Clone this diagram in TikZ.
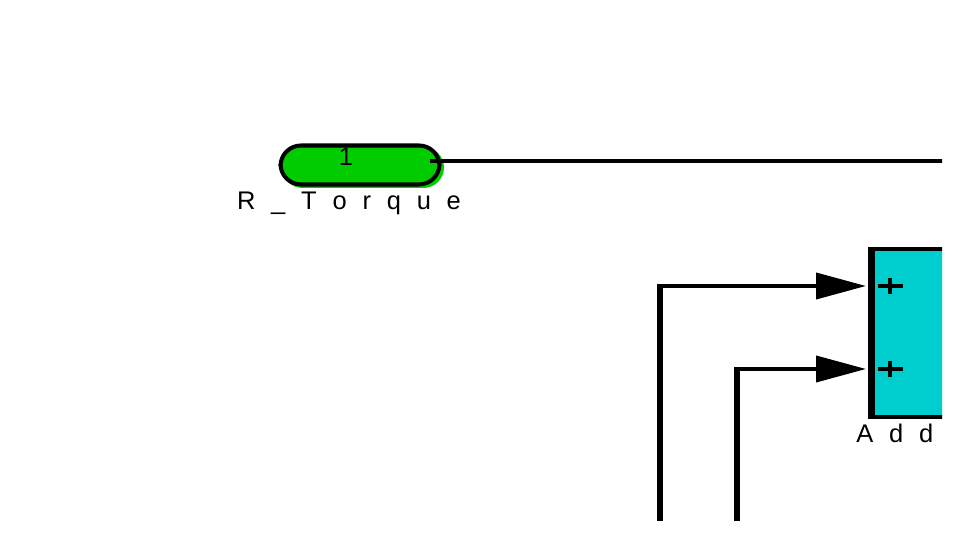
\documentclass[tikz,border=0pt]{standalone}
\usepackage{fontspec}
\setmainfont{Liberation Sans}
\usetikzlibrary{arrows.meta}
\definecolor{inportgreen}{RGB}{0,204,0}
\definecolor{sumcyan}{RGB}{0,206,206}
\newcommand{\lblfont}{\fontsize{14.5}{17}\selectfont\spaceskip 0.62em\relax}
\tikzset{
  pill/.style={draw=black, line width=2.3pt, fill=inportgreen, rounded corners=0.41cm,
    minimum width=3.18cm, minimum height=0.78cm, inner sep=0pt},
  blocklbl/.style={font=\lblfont, inner sep=0pt},
  sig/.style={line width=2.2pt},
  vsig/.style={line width=3.3pt},
  sigarrow/.style={line width=2.2pt, -{Triangle[length=1cm,width=0.52cm]}}
}
\begin{document}
\begin{tikzpicture}[x=0.02cm, y=-0.02cm]
    \useasboundingbox (0,0) rectangle (977,536);
    \clip (0,0) rectangle (942,521);

    % inport
    \fill[inportgreen, rounded corners=0.41cm] (282,147) rectangle (444,188);
    \node[pill] (rtorque) at (360,165) {};
    \node[blocklbl] (rtnum) at (346,157) {1};
    \node[blocklbl] (rtlbl) at (349,203) {R \_ T o r q u e};
    \coordinate (rtout) at (430,161);
    \coordinate (rtend) at (960,161);
    \draw[sig] (rtout) -- (rtend);

    % sum block
    \node[fill=sumcyan, draw=black, line width=2.3pt, minimum width=3cm, minimum height=3.36cm,
      anchor=north west, inner sep=0pt] (add) at (871,247) {};
    \draw[line width=3.3pt] (add.north west) -- (add.south west);
    \node[blocklbl, anchor=west] (addlbl) at (856,433) {A d d};
    \coordinate (in1) at (866,286);
    \coordinate (in2) at (866,369);
    \foreach \p in {286,369} {
      \draw[line width=2.3pt] (878,\p) -- (903,\p);
      \draw[line width=2.5pt] (890,\p-8) -- (890,\p+8);
    }

    % input signals
    \coordinate (src1) at (660,540);
    \coordinate (src2) at (737,540);
    \coordinate (bend1) at (660,286);
    \coordinate (bend2) at (737,369);
    \draw[vsig] (src1) -- (bend1);
    \draw[vsig] (src2) -- (bend2);
    \draw[sigarrow] ([xshift=-1.65pt]bend1) -- (in1);
    \draw[sigarrow] ([xshift=-1.65pt]bend2) -- (in2);
\end{tikzpicture}
\end{document}
